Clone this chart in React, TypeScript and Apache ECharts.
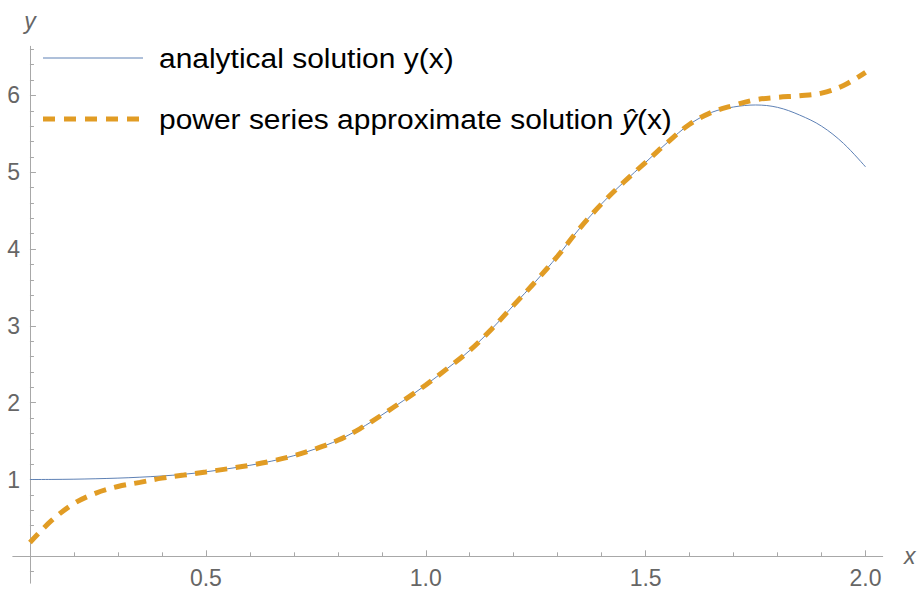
import React, { useEffect, useRef } from "react";
import * as echarts from "echarts";

// ---- data ----
const X_VALUES = [
  0.1, 0.15, 0.2, 0.25, 0.3, 0.35, 0.4, 0.45, 0.5, 0.55, 0.6, 0.65, 0.7, 0.75,
  0.8, 0.85, 0.9, 0.95, 1.0, 1.05, 1.1, 1.15, 1.2, 1.25, 1.3, 1.35, 1.4, 1.45,
  1.5, 1.55, 1.6, 1.65, 1.7, 1.75, 1.8, 1.85, 1.9, 1.95, 2.0,
];
const Y_ANALYTICAL = [
  1.0, 1.001, 1.004, 1.01, 1.018, 1.03, 1.046, 1.068, 1.1, 1.14, 1.185, 1.24,
  1.31, 1.4, 1.51, 1.66, 1.84, 2.03, 2.23, 2.45, 2.68, 2.96, 3.27, 3.58, 3.91,
  4.27, 4.59, 4.87, 5.13, 5.39, 5.625, 5.78, 5.85, 5.876, 5.845, 5.745, 5.6,
  5.375, 5.07,
];
const Y_APPROX = [
  0.18, 0.47, 0.687, 0.823, 0.909, 0.963, 1.018, 1.058, 1.098, 1.14, 1.185,
  1.24, 1.31, 1.4, 1.51, 1.66, 1.84, 2.03, 2.23, 2.45, 2.68, 2.96, 3.27, 3.58,
  3.91, 4.27, 4.59, 4.87, 5.13, 5.39, 5.625, 5.78, 5.87, 5.945, 5.976, 5.996,
  6.03, 6.13, 6.3,
];
const X_MAJOR_TICKS = [0.5, 1.0, 1.5, 2.0];
const X_MINOR_TICKS = [
  0.2, 0.3, 0.4, 0.6, 0.7, 0.8, 0.9, 1.1, 1.2, 1.3, 1.4, 1.6, 1.7, 1.8, 1.9,
];
const Y_MAJOR_TICKS = [1, 2, 3, 4, 5, 6];
const Y_MINOR_TICKS = [
  -0.2, 0.2, 0.4, 0.6, 0.8, 1.2, 1.4, 1.6, 1.8, 2.2, 2.4, 2.6, 2.8, 3.2, 3.4,
  3.6, 3.8, 4.2, 4.4, 4.6, 4.8, 5.2, 5.4, 5.6, 5.8, 6.2, 6.4, 6.6,
];
const X_RANGE = [0.061, 2.039];
const Y_RANGE = [-0.35, 6.64];
const Y_AXIS_AT_X = 0.1;
const X_AXIS_AT_Y = 0;
const LEGEND_NAMES = ["analytical solution y(x)", "power series approximate solution ŷ(x)"];

const BLUE = "#5e81b5";
const ORANGE = "#e19c24";
const AXIS_COLOR = "#a8a8a8";
const LABEL_COLOR = "#666666";
const FONT = "'Liberation Sans', Arial, Helvetica, sans-serif";

export default function App() {
  const ref = useRef<HTMLDivElement>(null);

  useEffect(() => {
    if (!ref.current) return;
    const chart = echarts.init(ref.current, undefined, { renderer: "svg" });

    const W = 919;
    const H = 592;
    const gridLeft = 12.8;
    const gridRight = 36.3;
    const gridTop = 46.3;
    const gridBottom = 8.8;
    const gridWidth = W - gridLeft - gridRight;
    const gridHeight = H - gridTop - gridBottom;
    const yOffset =
      -((Y_AXIS_AT_X - X_RANGE[0]) / (X_RANGE[1] - X_RANGE[0])) * gridWidth;
    const xOffset =
      -((X_AXIS_AT_Y - Y_RANGE[0]) / (Y_RANGE[1] - Y_RANGE[0])) * gridHeight;

    const analytical = X_VALUES.map((x, i) => [x, Y_ANALYTICAL[i]]);
    const approx = X_VALUES.map((x, i) => [x, Y_APPROX[i]]);

    const labelStyle = { color: LABEL_COLOR, fontSize: 23, fontFamily: FONT };

    chart.setOption({
      animation: false,
      backgroundColor: "#ffffff",
      grid: {
        left: gridLeft,
        right: gridRight,
        top: gridTop,
        bottom: gridBottom,
        containLabel: false,
        outerBoundsMode: "none",
      },
      xAxis: [
        {
          type: "value",
          min: X_RANGE[0],
          max: X_RANGE[1],
          position: "bottom",
          offset: xOffset,
          name: "x",
          nameLocation: "end",
          nameGap: 27,
          nameTextStyle: {
            color: LABEL_COLOR,
            fontSize: 23,
            fontStyle: "italic",
            fontFamily: FONT,
            align: "center",
            verticalAlign: "middle",
          },
          axisLine: { show: true, onZero: false, lineStyle: { color: AXIS_COLOR, width: 1 } },
          axisTick: { show: true, inside: true, length: 6, customValues: X_MAJOR_TICKS, lineStyle: { color: AXIS_COLOR, width: 1 } },
          axisLabel: {
            show: true,
            customValues: X_MAJOR_TICKS,
            margin: 10.5,
            formatter: (v: number) => v.toFixed(1),
            ...labelStyle,
          },
          splitLine: { show: false },
        },
        {
          type: "value",
          min: X_RANGE[0],
          max: X_RANGE[1],
          position: "bottom",
          offset: xOffset,
          axisLine: { show: false, onZero: false },
          axisTick: { show: true, inside: true, length: 4, customValues: X_MINOR_TICKS, lineStyle: { color: AXIS_COLOR, width: 1 } },
          axisLabel: { show: false },
          splitLine: { show: false },
        },
      ],
      yAxis: [
        {
          type: "value",
          min: Y_RANGE[0],
          max: Y_RANGE[1],
          position: "left",
          offset: yOffset,
          name: "y",
          nameLocation: "end",
          nameGap: 25,
          nameTextStyle: {
            color: LABEL_COLOR,
            fontSize: 23,
            fontStyle: "italic",
            fontFamily: FONT,
            align: "center",
            verticalAlign: "middle",
          },
          axisLine: { show: true, onZero: false, lineStyle: { color: AXIS_COLOR, width: 1 } },
          axisTick: { show: true, inside: true, length: 6, customValues: Y_MAJOR_TICKS, lineStyle: { color: AXIS_COLOR, width: 1 } },
          axisLabel: { show: true, customValues: Y_MAJOR_TICKS, margin: 10, ...labelStyle },
          splitLine: { show: false },
        },
        {
          type: "value",
          min: Y_RANGE[0],
          max: Y_RANGE[1],
          position: "left",
          offset: yOffset,
          axisLine: { show: false, onZero: false },
          axisTick: { show: true, inside: true, length: 4, customValues: Y_MINOR_TICKS, lineStyle: { color: AXIS_COLOR, width: 1 } },
          axisLabel: { show: false },
          splitLine: { show: false },
        },
      ],
      series: [
        {
          name: LEGEND_NAMES[0],
          type: "line",
          xAxisIndex: 0,
          yAxisIndex: 0,
          data: analytical,
          smooth: 0.35,
          showSymbol: false,
          symbol: "none",
          lineStyle: { color: BLUE, width: 1 },
          z: 2,
        },
        {
          name: LEGEND_NAMES[1],
          type: "line",
          xAxisIndex: 0,
          yAxisIndex: 0,
          data: approx,
          smooth: 0.35,
          showSymbol: false,
          symbol: "none",
          lineStyle: { color: ORANGE, width: 5, type: [12, 8.5], cap: "butt" },
          z: 3,
        },
      ],
      graphic: [
        {
          type: "line",
          shape: { x1: 43, y1: 58, x2: 143, y2: 58 },
          style: { stroke: BLUE, lineWidth: 1 },
        },
        {
          type: "line",
          shape: { x1: 43, y1: 119, x2: 143, y2: 119 },
          style: { stroke: ORANGE, lineWidth: 5, lineDash: [12, 9] },
        },
        {
          type: "text",
          x: 159,
          y: 58,
          scaleX: 1.07,
          style: {
            text: LEGEND_NAMES[0],
            fill: "#000000",
            fontSize: 28,
            fontFamily: FONT,
            verticalAlign: "middle",
            align: "left",
          },
        },
        {
          type: "text",
          x: 159,
          y: 119,
          scaleX: 1.07,
          style: {
            text: "{n|power series approximate solution }{i|ŷ}{n|(x)}",
            fill: "#000000",
            fontSize: 28,
            fontFamily: FONT,
            verticalAlign: "middle",
            align: "left",
            rich: {
              n: { fontSize: 28, fontFamily: FONT, fill: "#000000" },
              i: { fontSize: 28, fontFamily: FONT, fontStyle: "italic", fill: "#000000" },
            },
          },
        },
      ],
    });

    return () => chart.dispose();
  }, []);

  return (
    <div
      ref={ref}
      style={{ position: "absolute", left: 0, top: 0, width: 919, height: 592 }}
    />
  );
}
